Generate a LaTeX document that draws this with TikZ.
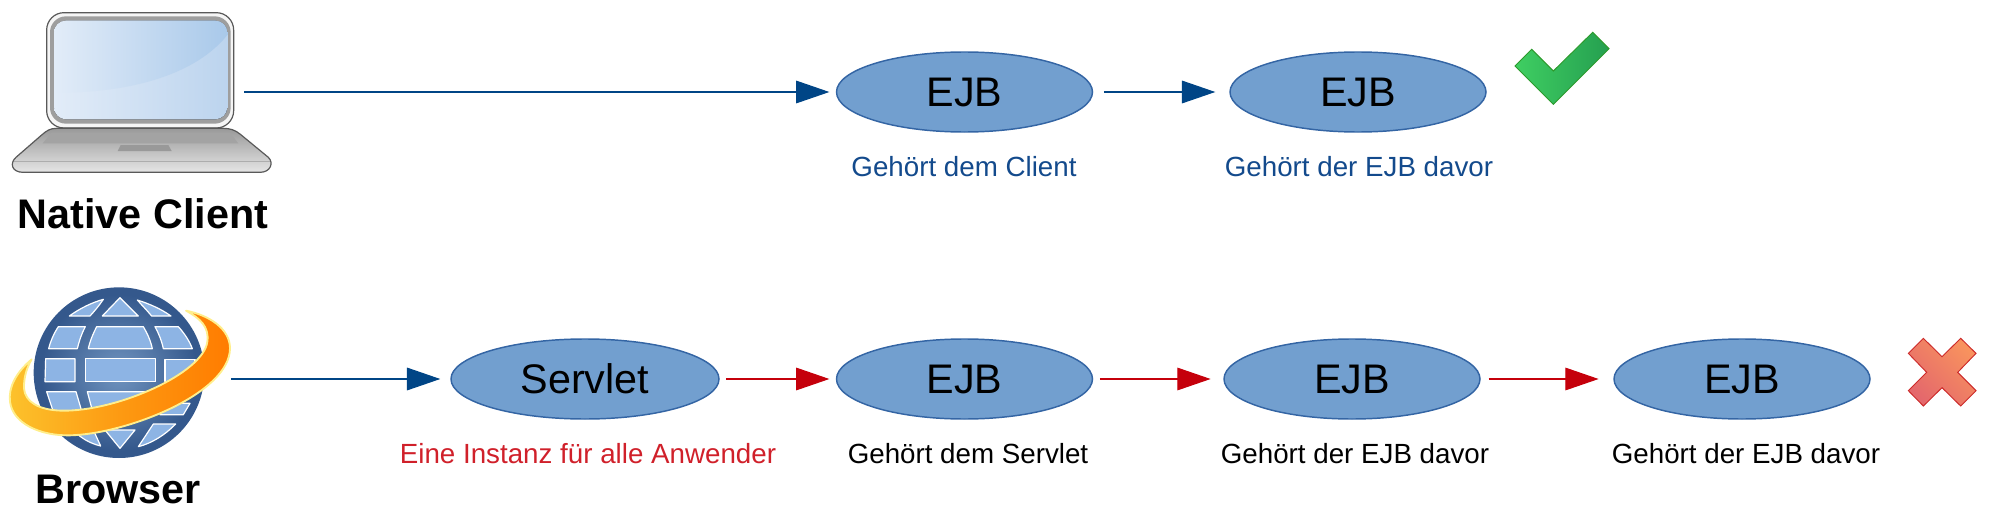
\documentclass[tikz,border=0pt]{standalone}
\usepackage{fontspec}
\setmainfont{Liberation Sans}
\usetikzlibrary{arrows.meta,shapes.geometric}
\definecolor{ellfill}{HTML}{729FCF}
\definecolor{elldraw}{HTML}{3465A4}
\definecolor{flowblue}{HTML}{004586}
\definecolor{flowred}{HTML}{C5000B}
\definecolor{labblue}{HTML}{134A8C}
\definecolor{labred}{HTML}{D0202A}
\definecolor{globedark}{HTML}{34588C}
\definecolor{globemid}{HTML}{6088B8}
\definecolor{cellblue}{HTML}{8DB4E4}
\definecolor{screenpale}{HTML}{E2ECF8}
\definecolor{screendeep}{HTML}{A9C9EA}
\definecolor{screenlow}{HTML}{BCD4EE}
\definecolor{ringa}{HTML}{FCC22C}
\definecolor{ringb}{HTML}{FD9A12}
\definecolor{ringc}{HTML}{FF7C00}
\definecolor{ringedge}{HTML}{FFEE8C}
\definecolor{checka}{HTML}{3FCE62}
\definecolor{checkb}{HTML}{259F50}
\definecolor{checkedge}{HTML}{2C9A2C}
\definecolor{crossa}{HTML}{F8925E}
\definecolor{crossb}{HTML}{E4686C}
\definecolor{crossedge}{HTML}{CC2A2A}
\tikzset{
  bean/.style={ellipse,draw=elldraw,line width=1.1pt,fill=ellfill,minimum width=192pt,minimum height=60pt,inner sep=0pt,font=\fontsize{31}{32}\selectfont},
  servbean/.style={bean,minimum width=201pt},
  caption/.style={font=\fontsize{20.8}{24}\selectfont,inner sep=0pt,anchor=base},
  title/.style={font=\fontsize{31}{36}\selectfont\bfseries,inner sep=0pt,anchor=base},
  flowb/.style={draw=flowblue,line width=.85pt,-{Triangle[length=25pt,width=17pt,fill=flowblue]},shorten >=4.8pt},
  flowr/.style={draw=flowred,line width=.85pt,-{Triangle[length=25pt,width=17pt,fill=flowred]},shorten >=4.8pt},
  cell/.style={draw=white,line width=.9pt,fill=cellblue,line join=round},
  zoomed/.style={x=.25pt,y=-.25pt},
}
\begin{document}
\begin{tikzpicture}[x=.75pt,y=-.75pt]
\useasboundingbox (0,0) rectangle (2000,521);
% laptop
\begin{scope}[zoomed]
  \draw[draw=black!65,line width=.9pt,fill=black!4,rounded corners=13pt] (140,38) rectangle (701,384);
  \fill[black!38,rounded corners=12pt] (150,49) rectangle (692,371);
  \fill[left color=screenpale,right color=screenlow,rounded corners=9pt] (162,62) rectangle (682,358);
  \begin{scope}
    \clip[rounded corners=9pt] (162,62) rectangle (682,358);
    \shade[left color=screenpale,right color=screendeep] (162,62) -- (682,62) -- (682,105) .. controls (590,220) and (400,280) .. (162,278) -- cycle;
  \end{scope}
  \draw[draw=black!65,line width=.9pt,top color=black!40,bottom color=black!10,line join=round]
    (170,385) -- (670,385) .. controls (690,385) and (705,390) .. (720,402) -- (805,472)
    .. controls (822,488) and (812,517) .. (780,517) -- (70,517)
    .. controls (35,517) and (28,490) .. (48,472) -- (125,405) .. controls (140,392) and (150,385) .. (170,385) -- cycle;
  \fill[black!36] (155,398) -- (690,398) -- (715,430) -- (128,430) -- cycle;
  \fill[black!40] (362,435) -- (505,435) -- (515,453) -- (353,453) -- cycle;
  \draw[black!32,line width=.8pt] (42,485) -- (810,485);
\end{scope}
\node[draw=none,inner sep=0pt,minimum size=0pt] (laptopicon) at (244,92) {};
% globe
\begin{scope}[zoomed,yshift=-202.5pt]
  \fill[globedark] (357,308) circle (256);
  \shade[inner color=globemid!90!white,outer color=globedark] (357,308) circle (235);
  \draw[cell] (208,138) .. controls (240,115) and (275,98) .. (310,88) .. controls (295,110) and (282,125) .. (270,138) -- cycle;
  \draw[cell] (360,83) -- (415,138) -- (307,138) -- cycle;
  \draw[cell] (412,90) .. controls (450,102) and (485,118) .. (513,138) -- (455,138) .. controls (440,120) and (425,105) .. (412,90) -- cycle;
  \draw[cell] (175,170) -- (256,170) .. controls (245,190) and (238,212) .. (232,236) -- (146,236) .. controls (152,212) and (162,190) .. (175,170) -- cycle;
  \draw[cell] (290,170) -- (430,170) .. controls (442,190) and (452,212) .. (457,236) -- (265,236) .. controls (270,212) and (280,190) .. (290,170) -- cycle;
  \draw[cell] (465,170) -- (535,170) .. controls (553,190) and (568,212) .. (577,236) -- (490,236) .. controls (485,212) and (476,190) .. (465,170) -- cycle;
  \draw[cell] (137,266) -- (225,266) -- (225,335) -- (135,335) -- cycle;
  \draw[cell] (256,266) -- (467,266) -- (467,335) -- (256,335) -- cycle;
  \draw[cell] (495,268) -- (585,268) -- (585,335) -- (495,335) -- cycle;
  \draw[cell] (140,365) -- (228,365) -- (250,440) -- (165,440) -- cycle;
  \draw[cell] (262,365) -- (470,365) -- (440,440) -- (282,440) -- cycle;
  \draw[cell] (490,400) -- (570,400) -- (550,434) -- (480,434) -- cycle;
  \draw[cell] (210,470) -- (280,480) -- (302,528) .. controls (270,520) and (240,505) .. (210,470) -- cycle;
  \draw[cell] (315,480) -- (405,480) -- (360,535) -- cycle;
  \draw[cell] (460,462) -- (527,462) .. controls (495,495) and (455,520) .. (415,530) -- cycle;
  \shade[draw=ringedge,line width=1.4pt,left color=ringa,right color=ringc,middle color=ringb,line join=round]
    (95,268) .. controls (45,310) and (25,355) .. (30,395)
    .. controls (38,460) and (120,498) .. (210,496)
    .. controls (380,492) and (690,370) .. (690,235)
    .. controls (690,175) and (625,135) .. (558,122)
    .. controls (600,145) and (628,170) .. (622,215)
    .. controls (610,310) and (350,425) .. (185,422)
    .. controls (115,420) and (75,395) .. (72,355)
    .. controls (71,320) and (82,290) .. (95,268) -- cycle;
\end{scope}
\node[draw=none,inner sep=0pt,minimum size=0pt] (globeicon) at (231,379) {};
% titles
\node[title] (nativetitle) at (143,228) {Native Client};
\node[title] (browsertitle) at (118,503) {Browser};
% ellipses
\node[bean] (ejbA) at (964.5,92) {EJB};
\node[bean] (ejbB) at (1358,92) {EJB};
\node[servbean] (servlet) at (585,379) {Servlet};
\node[bean] (ejbC) at (964.5,379) {EJB};
\node[bean] (ejbD) at (1352,379) {EJB};
\node[bean] (ejbE) at (1742,379) {EJB};
% captions
\node[caption,text=labblue] (capA) at (964,176) {Gehört dem Client};
\node[caption,text=labblue] (capB) at (1359,176) {Gehört der EJB davor};
\node[caption,text=labred] (capS) at (588,463) {Eine Instanz für alle Anwender};
\node[caption] (capC) at (968,463) {Gehört dem Servlet};
\node[caption] (capD) at (1355,463) {Gehört der EJB davor};
\node[caption] (capE) at (1746,463) {Gehört der EJB davor};
% connectors
\draw[flowb] (laptopicon) -- (ejbA);
\draw[flowb,shorten <=8pt,shorten >=10.5pt] (ejbA) -- (ejbB);
\draw[flowb,shorten >=7.5pt] (globeicon) -- (servlet);
\draw[flowr,shorten <=5pt] (servlet) -- (ejbC);
\draw[flowr,shorten <=5pt,shorten >=9.5pt] (ejbC) -- (ejbD);
\draw[flowr,shorten <=6pt,shorten >=11pt] (ejbD) -- (ejbE);
% check
\begin{scope}[zoomed,xshift=1110pt,yshift=-7.5pt]
  \shade[draw=checkedge,line width=.7pt,left color=checka,right color=checkb]
    (105,168) -- (155,118) -- (220,183) -- (338,67) -- (387,116) -- (220,283) -- cycle;
\end{scope}
% cross
\begin{scope}[zoomed,xshift=1410pt,yshift=-240pt]
  \shade[draw=crossedge,line width=.7pt,left color=crossa,right color=crossb,shading angle=-45]
    (85,100) -- (130,55) -- (186,110) -- (242,55) -- (288,100) -- (233,157) -- (288,212) -- (242,258) -- (186,203) -- (130,258) -- (85,212) -- (140,157) -- cycle;
\end{scope}
\end{tikzpicture}
\end{document}
